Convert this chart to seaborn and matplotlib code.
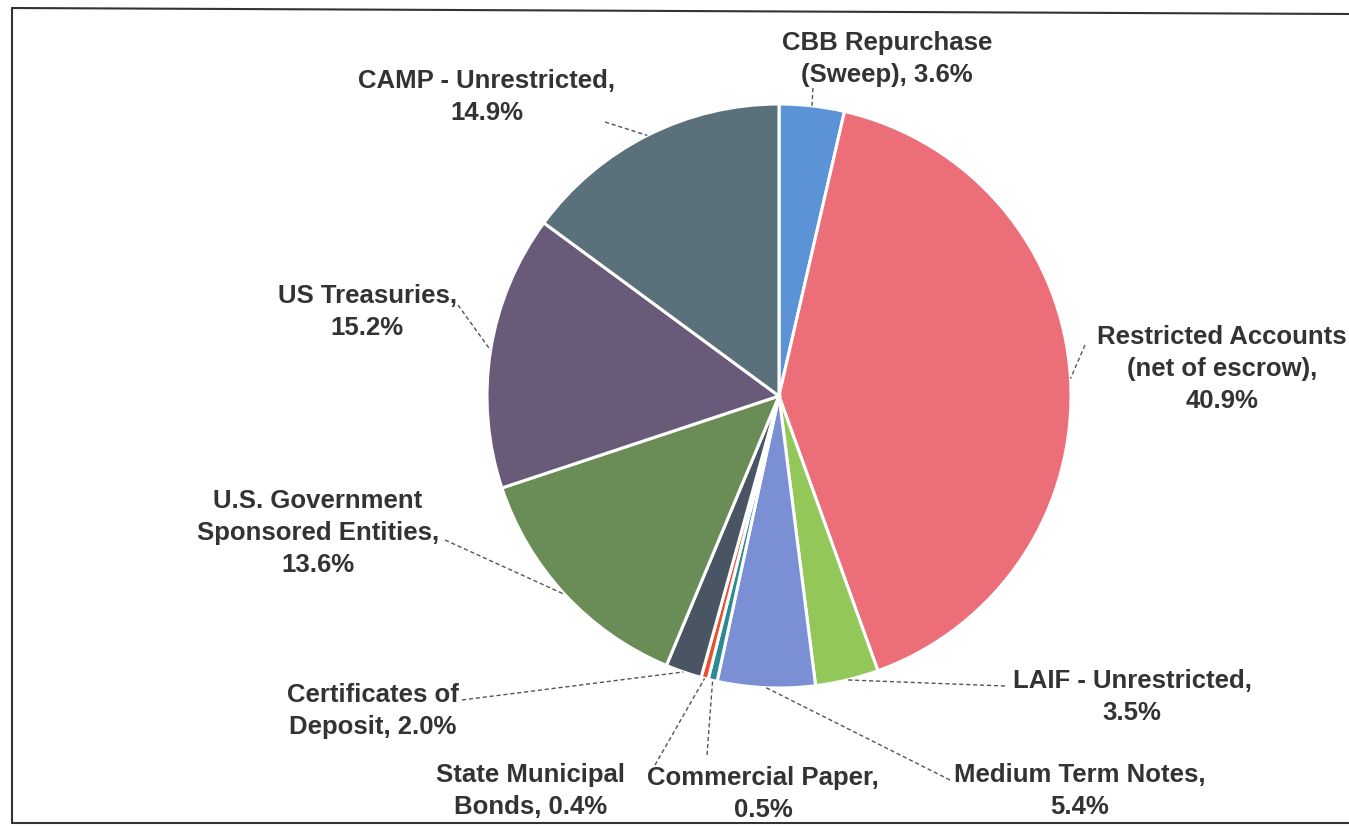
import numpy as np
import seaborn as sns
from matplotlib import pyplot as plt
from matplotlib.lines import Line2D

#### data
labels = ["CBB Repurchase\n(Sweep), 3.6%",
          "Restricted Accounts\n(net of escrow),\n40.9%",
          "LAIF - Unrestricted,\n3.5%",
          "Medium Term Notes,\n5.4%",
          "Commercial Paper,\n0.5%",
          "State Municipal\nBonds, 0.4%",
          "Certificates of\nDeposit, 2.0%",
          "U.S. Government\nSponsored Entities,\n13.6%",
          "US Treasuries,\n15.2%",
          "CAMP - Unrestricted,\n14.9%"]
shares = [3.6, 40.9, 3.5, 5.4, 0.5, 0.4, 2.0, 13.6, 15.2, 14.9]
colors = ["#5b93d6", "#ec6e78", "#93c75a", "#7b8fd4", "#2d8a95",
          "#e8502e", "#4a5563", "#6a8c56", "#6a5a7a", "#5a717c"]

# label centre (pixels) and where the leader line starts (pixels)
label_xy = [(887, 59), (1222, 369), (1132, 697), (1080, 791), (763, 794),
            (531, 791), (373, 711), (318, 533), (367, 312), (487, 97)]
leader_xy = [(813, 88), (1085, 345), (1005, 686), (950, 780), (707, 755),
             (655, 765), (462, 700), (445, 540), (458, 305), (605, 122)]

sns.set_style("white")
plt.rcParams['font.family'] = ['Liberation Sans', 'DejaVu Sans']

W, H = 1349, 826
fig = plt.figure(figsize=(W / 100, H / 100), dpi=100)

cx, cy, r = 779, 396, 292
ax = fig.add_axes([(cx - r) / W, (H - cy - r) / H, 2 * r / W, 2 * r / H])
pal = sns.color_palette(colors)
wedges, _ = ax.pie(shares, colors=pal, startangle=90, counterclock=False,
                   radius=1, wedgeprops=dict(edgecolor="white", linewidth=2.2))
ax.set_xlim(-1, 1)
ax.set_ylim(-1, 1)
ax.set_aspect("equal")
ax.axis("off")

# labels and leader lines
for w, lab, (lx, ly), (sx, sy) in zip(wedges, labels, label_xy, leader_xy):
    ang = np.deg2rad((w.theta1 + w.theta2) / 2)
    ex = cx + r * 1.0 * np.cos(ang)
    ey = cy - r * 1.0 * np.sin(ang)
    fig.text(lx / W, 1 - ly / H, lab, ha="center", va="center",
             fontsize=18.5, fontweight="bold", color="#333333",
             linespacing=1.42)
    fig.add_artist(Line2D([sx / W, ex / W], [1 - sy / H, 1 - ey / H],
                          color="#555555", lw=1.0, ls=(0, (3, 2))))

# scanned frame (left, top, bottom)
fig.add_artist(Line2D([12 / W, 12 / W], [1 - 8 / H, 1 - 823 / H], color="#333333", lw=1.5))
fig.add_artist(Line2D([12 / W, 1.0], [1 - 8 / H, 1 - 14 / H], color="#333333", lw=1.5))
fig.add_artist(Line2D([12 / W, 1.0], [1 - 823 / H, 1 - 823 / H], color="#333333", lw=1.5))

fig.savefig("out.png", dpi=100, facecolor="white")
